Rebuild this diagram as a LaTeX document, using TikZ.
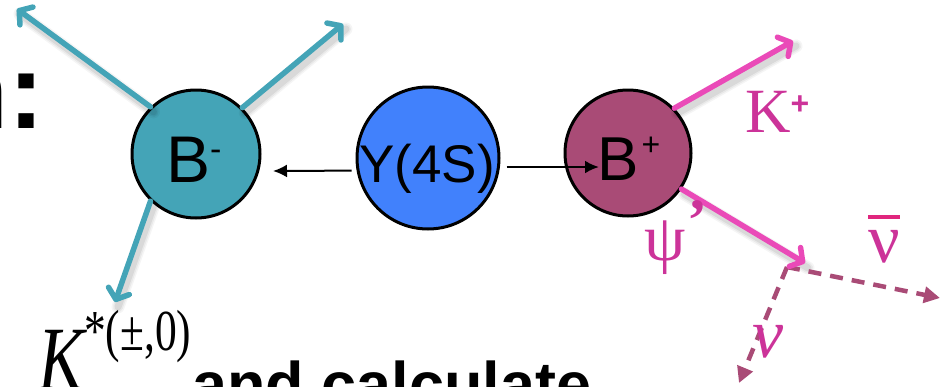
\documentclass[tikz,border=0pt]{standalone}
\usepackage{fontspec}
\setmainfont{Liberation Serif}
\setsansfont{Liberation Sans}
\usetikzlibrary{arrows.meta,calc}

\definecolor{bteal}{HTML}{44A4B7}
\definecolor{yblue}{HTML}{4181FC}
\definecolor{bplus}{HTML}{A94B76}
\definecolor{pinkarrow}{HTML}{EA4AB8}
\definecolor{pinklabel}{HTML}{CC3399}
\definecolor{nubar}{HTML}{E0267E}

\newcommand{\fsz}[1]{\fontsize{#1}{#1}\selectfont}

\tikzset{
  particle/.style={circle, draw=black, line width=3pt, inner sep=0pt},
  tealarrow/.style={draw=bteal, line width=5.5pt, line cap=round,
    -{Straight Barb[length=9pt,width=22pt,round]}},
  pinkdecay/.style={draw=pinkarrow, line width=5.5pt, line cap=round,
    -{Straight Barb[length=9pt,width=22pt,round]}},
  boost/.style={draw=black, -{Latex[length=14pt,width=13pt]}},
  nuline/.style={draw=bplus, line width=4.5pt, dash pattern=on 13pt off 9pt,
    -{Triangle[length=16pt,width=16pt]}},
  shade/.style={draw=black, line cap=round},
  sflabel/.style={font=\sffamily, text=black, inner sep=0pt},
  pinktext/.style={text=pinklabel, inner sep=0pt},
}

% a soft shadow built from a few translucent strokes
\newcommand{\softshadow}[2]{%
  \foreach \w/\o in {13/0.04, 10/0.05, 7/0.07}{
    \path[shade, line width=\w pt, opacity=\o]
      ([shift={(3,5)}]#1) -- ([shift={(3,5)}]#2);
  }}

\begin{document}
\begin{tikzpicture}[x=1pt,y=-1pt]
\useasboundingbox (0,0) rectangle (946,386);

% headline fragments cut by the page edges
\node[anchor=base east, inner sep=0pt, font=\sffamily\bfseries\fsz{108}] (head) at (45,128) {n:};
\node[anchor=base west, inner sep=0pt, font=\sffamily\bfseries\fsz{63}] (calc) at (192,406) {and calculate};
\node[anchor=base west, inner sep=0pt] (kstar) at (38,390)
  {\scalebox{0.75}[1]{\fsz{92}\itshape K\raisebox{40pt}{\fsz{58}\upshape *(±,0)}}};

% the three particles
\node[particle, fill=bteal, minimum size=128pt] (Bm) at (196,154) {};
\node[particle, fill=yblue, minimum size=142pt] (Y)  at (428,158) {};
\node[particle, fill=bplus, minimum size=126pt] (Bp) at (628,153) {};

% free ends of the arrows
\coordinate (tlEnd) at (17,9);
\coordinate (trEnd) at (343,24);
\coordinate (kEnd)  at (115,302);
\coordinate (leftEnd) at (273,171);
\coordinate (rightEnd) at (599,167);
\coordinate (kpEnd) at (793,41);
\coordinate (psiEnd) at (805,263);
\coordinate (vtx) at (787,267);
\coordinate (nubarEnd) at (940,298);
\coordinate (nuEnd) at (739,383);

% soft shadows under the decay arrows
\softshadow{Bm.134}{tlEnd}
\softshadow{Bm.45}{trEnd}
\softshadow{Bm.226}{kEnd}
\softshadow{Bp.44}{kpEnd}
\softshadow{Bp.-34}{psiEnd}

% B- decay products
\draw[tealarrow] (Bm.134) -- (tlEnd);
\draw[tealarrow] (Bm.45) -- (trEnd);
\draw[tealarrow] (Bm.226) -- (kEnd);

% Y(4S) -> B B
\draw[boost, line width=2pt, shorten <=5pt] (Y.190) -- (leftEnd);
\draw[boost, line width=2.6pt] ($(Y.east)+(6,9)$) -- (rightEnd);

% B+ decay products
\draw[pinkdecay] (Bp.44) -- (kpEnd);
\draw[nuline] (vtx) -- (nubarEnd);
\draw[nuline] (vtx) -- (nuEnd);
\draw[pinkdecay] (Bp.-34) -- (psiEnd);

% particle names
\node[sflabel, anchor=base west] (Bmlab) at (166,182)
  {\fsz{66}B\raisebox{22pt}{\fsz{34}-}};
\node[sflabel, anchor=base] (Ylab) at (427,182) {\fsz{53}Y(4S)};
\node[sflabel, anchor=base west] (Bplab) at (597,180)
  {\fsz{62}B\hspace{3pt}\raisebox{25pt}{\fsz{32}+}};

% decay product labels
\node[pinktext, anchor=base west] (kplab) at (745,132)
  {\fsz{63}K\raisebox{18pt}{\sffamily\bfseries\fsz{32}+}};
\node[pinktext, anchor=base west] (psilab) at (644,260)
  {\fsz{66}ψ\hspace{2pt}\raisebox{20pt}{\bfseries\fsz{60}’}};
\node[pinktext, anchor=base west] (nubarlab) at (868,262)
  {\fsz{70}\rlap{\raisebox{43pt}{\color{nubar}\rule{32pt}{4pt}}}ν};
\node[pinktext, anchor=base west] (nulab) at (752,357)
  {\fsz{70}\itshape ν};
\end{tikzpicture}
\end{document}
